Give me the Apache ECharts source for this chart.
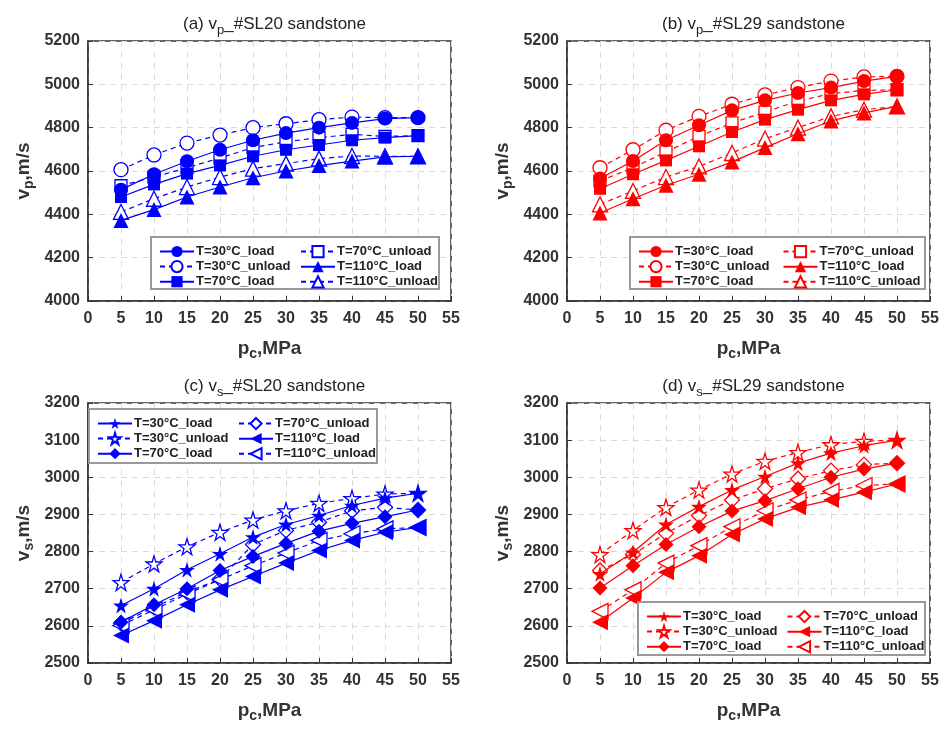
<!DOCTYPE html>
<html><head><meta charset="utf-8">
<script src="https://cdn.jsdelivr.net/npm/echarts@6/dist/echarts.min.js"></script>
<style>html,body{margin:0;padding:0;background:#fff}#c{width:950px;height:729px}</style>
</head><body><div id="c"></div>
<script>
const pc = [5,10,15,20,25,30,35,40,45,50];
const labels = ['T=30°C_load','T=30°C_unload','T=70°C_load','T=70°C_unload','T=110°C_load','T=110°C_unload'];
// (a) vp SL20
const a30L=[4514,4585,4645,4698,4742,4775,4800,4822,4842,4846];
const a30U=[4606,4674,4729,4766,4800,4818,4837,4849,4846,4846];
const a70L=[4480,4538,4588,4626,4668,4698,4720,4742,4754,4763];
const a70U=[4532,4572,4615,4660,4708,4735,4754,4769,4760,4763];
const a110L=[4372,4422,4480,4526,4569,4600,4625,4646,4665,4668];
const a110U=[4411,4472,4526,4572,4611,4634,4657,4669,4668,4668];
// (b) vp SL29
const b30L=[4565,4646,4742,4811,4880,4926,4960,4985,5015,5037];
const b30U=[4615,4698,4788,4852,4908,4951,4985,5015,5034,5037];
const b70L=[4518,4585,4649,4714,4780,4837,4883,4926,4954,4975];
const b70U=[4554,4615,4688,4760,4822,4872,4923,4957,4972,4975];
const b110L=[4406,4472,4534,4585,4642,4708,4772,4831,4868,4898];
const b110U=[4446,4508,4572,4621,4683,4749,4800,4852,4883,4898];
// (c) vs SL20
const c30L=[2655,2700,2751,2794,2839,2873,2897,2924,2944,2957];
const c30U=[2717,2767,2813,2852,2885,2910,2930,2943,2955,2957];
const c70L=[2610,2657,2700,2749,2787,2822,2855,2876,2894,2912];
const c70U=[2607,2650,2691,2726,2819,2857,2879,2910,2919,2912];
const c110L=[2574,2614,2657,2697,2733,2769,2803,2830,2852,2865];
const c110U=[2601,2643,2686,2724,2762,2796,2830,2848,2861,2865];
// (d) vs SL29
const d30L=[2740,2798,2873,2921,2966,3002,3038,3065,3085,3100];
const d30U=[2792,2857,2919,2966,3009,3043,3067,3088,3097,3100];
const d70L=[2702,2762,2819,2867,2909,2937,2969,3000,3022,3038];
const d70U=[2749,2792,2849,2897,2939,2969,2996,3018,3034,3038];
const d110L=[2610,2675,2744,2789,2846,2888,2919,2939,2960,2982];
const d110U=[2639,2697,2769,2816,2867,2910,2939,2962,2978,2982];

const STAR='path://M50,0 L61,35 L98,35 L68,57 L79,91 L50,70 L21,91 L32,57 L2,35 L39,35 Z';
const panels=[
 {data:[a30L,a30U,a70L,a70U,a110L,a110U],color:'#0000ff',vp:true,min:4000,max:5200,int:200,sub:'p',title:'(a) v',tail:'_#SL20 sandstone',left:88,top:41,leg:[151,237,439,289]},
 {data:[b30L,b30U,b70L,b70U,b110L,b110U],color:'#ff0000',vp:true,min:4000,max:5200,int:200,sub:'p',title:'(b) v',tail:'_#SL29 sandstone',left:567,top:41,leg:[630,237,925,289]},
 {data:[c30L,c30U,c70L,c70U,c110L,c110U],color:'#0000ff',vp:false,min:2500,max:3200,int:100,sub:'s',title:'(c) v',tail:'_#SL20 sandstone',left:88,top:403,leg:[89,409,377,463]},
 {data:[d30L,d30U,d70L,d70U,d110L,d110U],color:'#ff0000',vp:false,min:2500,max:3200,int:100,sub:'s',title:'(d) v',tail:'_#SL29 sandstone',left:567,top:403,leg:[638,602,925,655]}
];
const W=363,H=260;
const grid=[],xAxis=[],yAxis=[],series=[],legend=[],title=[],graphic=[];
const txt='#333';
panels.forEach((p,i)=>{
  grid.push({left:p.left,top:p.top,width:W,height:H,show:true,borderColor:'#333',borderWidth:1.5,backgroundColor:'transparent'});
  xAxis.push({gridIndex:i,type:'value',min:0,max:55,interval:5,
    axisLine:{show:true,lineStyle:{color:'#333',width:1.5}},axisTick:{inside:true,length:5,lineStyle:{color:'#333'}},
    axisLabel:{color:txt,fontSize:16,fontWeight:'bold',fontFamily:'Liberation Sans',margin:10},
    splitLine:{show:true,lineStyle:{type:[6,5],color:'#dadada'}},
    name:'{m|p}{s|c}{m|,MPa}',nameLocation:'middle',nameGap:36,
    nameTextStyle:{rich:{m:{fontSize:19,fontWeight:'bold',color:txt,fontFamily:'Liberation Sans'},s:{fontSize:14,fontWeight:'bold',color:txt,fontFamily:'Liberation Sans',verticalAlign:'bottom',padding:[10,0,0,0]}}}});
  yAxis.push({gridIndex:i,type:'value',min:p.min,max:p.max,interval:p.int,
    axisLine:{show:true,lineStyle:{color:'#333',width:1.5}},axisTick:{inside:true,length:5,lineStyle:{color:'#333'}},
    axisLabel:{color:txt,fontSize:16,fontWeight:'bold',fontFamily:'Liberation Sans',margin:8,formatter:v=>String(v)},
    splitLine:{show:true,lineStyle:{type:[6,5],color:'#dadada'}},
    name:'{m|v}{s|'+p.sub+'}{m|,m/s}',nameLocation:'middle',nameGap:52,nameRotate:90,
    nameTextStyle:{rich:{m:{fontSize:19,fontWeight:'bold',color:txt,fontFamily:'Liberation Sans'},s:{fontSize:14,fontWeight:'bold',color:txt,fontFamily:'Liberation Sans',padding:[10,0,0,0]}}}});
  title.push({text:'{m|'+p.title+'}{s|'+p.sub+'}{m|'+p.tail+'}',left:p.left+W/2,top:p.top-34,textAlign:'center',
    textStyle:{fontWeight:'normal',rich:{m:{fontSize:17,fontWeight:'normal',color:'#222',fontFamily:'Liberation Sans'},s:{fontSize:13,fontWeight:'normal',color:'#222',fontFamily:'Liberation Sans',padding:[12,0,0,0]}}}});
  const zw='\u200b'.repeat(i);
  const syms=p.vp?['circle','circle','rect','rect','triangle','triangle']:[STAR,STAR,'diamond','diamond','triangle','triangle'];
  const sizes=p.vp?[14,14,12,12,15,15]:[16,16,15,15,16,16];
  const names=[];
  p.data.forEach((arr,k)=>{
    const unload=k%2===1;
    const nm=labels[k]+zw; names.push(nm);
    series.push({type:'line',name:nm,xAxisIndex:i,yAxisIndex:i,
      data:pc.map((x,j)=>[x,arr[j]]),symbol:syms[k],symbolSize:sizes[k],
      symbolRotate:(!p.vp&&k>=4)?90:0,
      lineStyle:{color:p.color,width:1.2,type:unload?[5,4]:'solid'},
      itemStyle:{color:unload?'#fff':p.color,borderColor:p.color,borderWidth:unload?1.3:0},
      emphasis:{disabled:true},z:unload?3:4});
  });
  const [x1,y1,x2,y2]=p.leg;
  graphic.push({type:'rect',shape:{x:x1,y:y1,width:x2-x1,height:y2-y1},style:{fill:'#fff',stroke:'#999',lineWidth:2},z:50});
  const common={orient:'vertical',itemGap:2,itemWidth:34,itemHeight:14,z:60,
    textStyle:{fontSize:13,fontWeight:'bold',color:'#222',fontFamily:'Liberation Sans',padding:[0,0,0,-3]},selectedMode:false};
  legend.push(Object.assign({},common,{data:names.slice(0,3),left:x1+3,top:y1+3}));
  legend.push(Object.assign({},common,{data:[names[3],names[4],names[5]],left:x1+(x2-x1)*0.5,top:y1+3}));
});
const chart=echarts.init(document.getElementById('c'));
chart.setOption({animation:false,backgroundColor:'#fff',title,grid,xAxis,yAxis,series,legend,graphic});
</script></body></html>
